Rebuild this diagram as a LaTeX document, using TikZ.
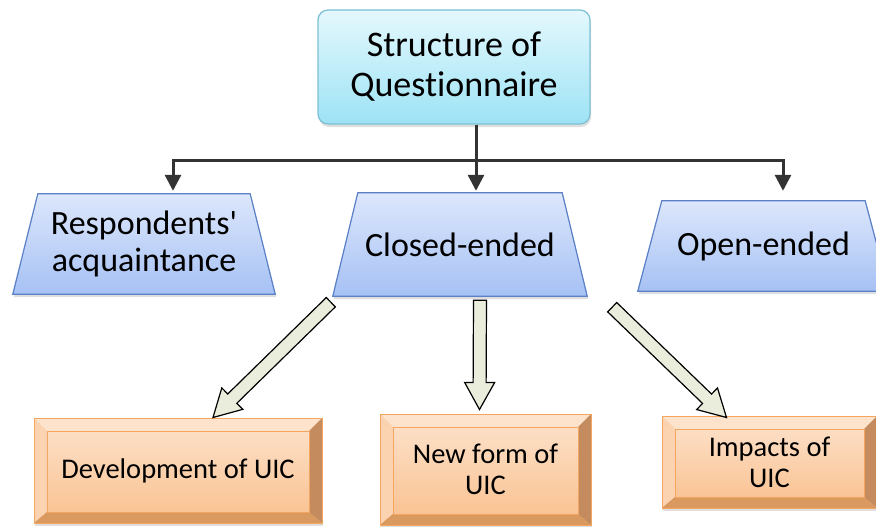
\documentclass[tikz,border=0pt]{standalone}
\usepackage{fontspec}
\setmainfont{Carlito}[Ligatures=NoCommon]
\usepackage{tikz}
\usetikzlibrary{arrows.meta, calc, shadows}

\definecolor{capline}{HTML}{7DC0D5}
\definecolor{captop}{HTML}{E4F8FD}
\definecolor{capbot}{HTML}{9DE3F5}
\definecolor{trapline}{HTML}{5A80C8}
\definecolor{traptop}{HTML}{DDE7FC}
\definecolor{trapbot}{HTML}{A6C1F4}
\definecolor{bevrim}{HTML}{F4A55F}
\definecolor{facetop}{HTML}{FDE3CD}
\definecolor{facebot}{HTML}{F9C08E}
\definecolor{bevtop}{HTML}{FDE3CC}
\definecolor{bevleft}{HTML}{FBD3B0}
\definecolor{bevright}{HTML}{C48C5E}
\definecolor{bevbot}{HTML}{D9995F}
\definecolor{hollowfill}{HTML}{EAEDDC}
\definecolor{connline}{HTML}{333333}

\pgfdeclarelayer{paper}
\pgfdeclarelayer{back}
\pgfsetlayers{paper,back,main}

% wide hollow arrow from #1 to #2
\newcommand{\hollowarrow}[2]{%
  \path (#1) coordinate (ha0) (#2) coordinate (ha1);
  \path ($(ha1)!27pt!(ha0)$) coordinate (hab);
  \filldraw[hollow] ($(ha0)!6.5pt!90:(ha1)$) -- ($(hab)!6.5pt!-90:(ha0)$)
    -- ($(hab)!15pt!-90:(ha0)$) -- (ha1) -- ($(hab)!15pt!90:(ha0)$)
    -- ($(hab)!6.5pt!90:(ha0)$) -- ($(ha0)!6.5pt!-90:(ha1)$) -- cycle;}

% trapezoid behind node #1, top corners moved in by #2
\newcommand{\trapback}[2]{%
  \begin{pgfonlayer}{back}
    \filldraw[trapfill] ([xshift=#2]#1.north west) -- ([xshift=-#2]#1.north east)
      -- (#1.south east) -- (#1.south west) -- cycle;
  \end{pgfonlayer}}

\begin{document}
\begin{tikzpicture}[x=1pt, y=-1pt,
    capbox/.style={rectangle, rounded corners=10pt, draw=capline, line width=1.2pt,
      top color=captop, bottom color=capbot, align=center, inner sep=0pt,
      font=\fontsize{36}{40}\selectfont,
      drop shadow={shadow xshift=1pt, shadow yshift=-3pt, opacity=0.25}},
    trapbox/.style={rectangle, align=center, inner sep=0pt,
      font=\fontsize{34}{37}\selectfont},
    trapfill/.style={draw=trapline, line width=1.2pt, line join=miter,
      top color=traptop, bottom color=trapbot,
      drop shadow={shadow xshift=1pt, shadow yshift=-3pt, opacity=0.25}},
    bevelbox/.style={rectangle, draw=bevrim, line width=1pt, inner sep=0pt,
      top color=facetop, bottom color=facebot, align=center,
      font=\fontsize{28.5}{31}\selectfont,
      drop shadow={shadow xshift=1pt, shadow yshift=-3pt, opacity=0.25},
      path picture={
        \path (path picture bounding box.north west) coordinate (o1)
              (path picture bounding box.south east) coordinate (o3);
        \path (o1) ++(13pt,-13pt) coordinate (i1) (o3) ++(-13pt,11pt) coordinate (i3);
        \fill[bevtop] (o1) -- (o1 -| o3) -- (i1 -| i3) -- (i1) -- cycle;
        \fill[bevleft] (o1) -- (i1) -- (i1 |- i3) -- (o1 |- o3) -- cycle;
        \fill[bevright] (o1 -| o3) -- (o3) -- (i3) -- (i1 -| i3) -- cycle;
        \fill[bevbot] (o1 |- o3) -- (i1 |- i3) -- (i3) -- (o3) -- cycle;
        \draw[bevrim, line width=0.6pt] (i1) rectangle (i3);
      }},
    conn/.style={draw=connline, line width=3pt},
    tip/.style={-{Triangle[width=16pt, length=16pt]}},
    hollow/.style={fill=hollowfill, draw=black, line width=1.2pt, line join=miter}]

    \clip (0,0) rectangle (876,527);
    \begin{pgfonlayer}{paper}
      \fill[white] (0,0) rectangle (876,527);
    \end{pgfonlayer}

    % top level
    \node[capbox, minimum width=272pt, minimum height=114pt] (quest) at (454,67)
      {Structure of\\Questionnaire};

    % question types
    \node[trapbox, minimum width=262pt, minimum height=100pt] (resp) at (144,244)
      {Respondents\textquotesingle\\acquaintance};
    \node[trapbox, minimum width=254pt, minimum height=103pt] (closed) at (460,244.5)
      {Closed-ended};
    \node[trapbox, minimum width=251pt, minimum height=90pt] (open) at (763.5,246)
      {Open-ended};
    \trapback{resp}{25pt}
    \trapback{closed}{25pt}
    \trapback{open}{24pt}

    % closed-ended topics
    \node[bevelbox, minimum width=288pt, minimum height=105pt] (devel) at (178,470.5)
      {Development of UIC};
    \node[bevelbox, minimum width=211pt, minimum height=111pt] (newform) at (485.5,469.5)
      {New form of\\UIC};
    \node[bevelbox, minimum width=215pt, minimum height=92pt] (impact) at (769.5,462)
      {Impacts of\\UIC};

    % tree connector
    \coordinate (hub) at (476,160);
    \coordinate (hubl) at (173,160);
    \coordinate (hubr) at (783,160);
    \draw[conn, line cap=rect] (hubl) -- (hubr);
    \draw[conn, tip] (hubl) -- ([yshift=2pt]hubl |- closed.north);
    \draw[conn, tip] (quest.south -| hub) -- ([yshift=2pt]hub |- closed.north);
    \draw[conn, tip] (hubr) -- ([yshift=2pt]hubr |- closed.north);

    % hollow arrows
    \hollowarrow{$(closed.south west)+(-2,6)$}{$(devel.north)+(35,0)$}
    \hollowarrow{$(closed.south)+(20,4)$}{$(newform.north)+(-6,-4)$}
    \hollowarrow{$(closed.south east)+(25,11)$}{$(impact.north)+(-43,2)$}
\end{tikzpicture}
\end{document}
